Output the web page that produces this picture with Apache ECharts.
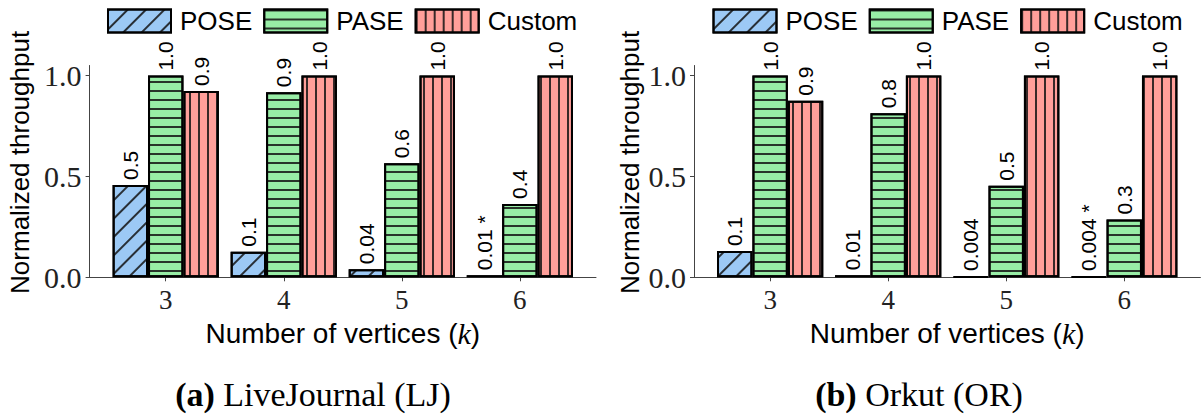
<!DOCTYPE html>
<html>
<head>
<meta charset="utf-8">
<script src="https://cdn.jsdelivr.net/npm/echarts@6/dist/echarts.min.js"></script>
<style>
  html, body { margin: 0; padding: 0; background: #fff; }
  #chart { width: 1204px; height: 416px; }
</style>
</head>
<body>
<div id="chart"></div>
<script>
// Pattern sizes (k) on the x axis
const kValues = [3, 4, 5, 6];
const yTicks = [0, 0.5, 1.0];

// Normalized throughput, LiveJournal (LJ)
const ljPose = [0.458, 0.127, 0.04, 0.01];
const ljPase = [1.0, 0.918, 0.565, 0.364];
const ljCustom = [0.924, 1.0, 1.0, 1.0];

// Normalized throughput, Orkut (OR)
const orPose = [0.13, 0.01, 0.004, 0.004];
const orPase = [1.0, 0.813, 0.454, 0.286];
const orCustom = [0.875, 1.0, 1.0, 1.0];

// Footnote markers appended to the POSE value labels
const poseNotes = ['', '', '', '*'];

const seriesNames = ['POSE', 'PASE', 'Custom'];
const captions = ['LiveJournal (LJ)', 'Orkut (OR)'];
const captionTags = ['(a)', '(b)'];

const SANS = 'Liberation Sans';
const SERIF = 'Liberation Serif';
const HATCH = 'rgba(20,20,20,0.85)';

const styles = {
  POSE: {
    color: '#9cc9f5',
    decal: { symbol: 'rect', symbolSize: 1, dashArrayX: [1, 0], dashArrayY: [1.2, 10.5], rotation: -Math.PI / 4, color: HATCH }
  },
  PASE: {
    color: '#98eda6',
    decal: { symbol: 'rect', symbolSize: 1, dashArrayX: [1, 0], dashArrayY: [1.2, 6.6], rotation: 0, color: HATCH }
  },
  Custom: {
    color: '#ff9f9a',
    decal: { symbol: 'rect', symbolSize: 1, dashArrayX: [1.2, 6.3], dashArrayY: [1, 0], rotation: 0, color: HATCH }
  }
};

function fmtValue(v) {
  return v >= 0.1 ? v.toFixed(1) : v.toPrecision(1);
}

function makeSeries(name, values, panel, notes) {
  const st = styles[name];
  return {
    type: 'bar',
    name: name,
    xAxisIndex: panel,
    yAxisIndex: panel,
    barWidth: '30%',
    barGap: '0%',
    data: values.map((v, i) => [kValues[i], v]),
    itemStyle: {
      color: st.color,
      decal: st.decal,
      borderColor: '#000',
      borderWidth: 2
    },
    label: {
      show: true,
      position: 'top',
      rotate: 90,
      align: 'left',
      verticalAlign: 'middle',
      distance: 5,
      color: '#000',
      fontFamily: SANS,
      fontSize: 21,
      formatter: (p) => {
        const note = notes ? notes[p.dataIndex] : '';
        return fmtValue(p.value[1]) + (note ? ' ' + note : '');
      }
    },
    emphasis: { disabled: true }
  };
}

const gridLefts = [89.6, 694];
const yNameGaps = [57, 51];
const captionCenters = [308, 914];
const legendLefts = [107, 712.5];

const axisColor = '#444';

const option = {
  animation: false,
  backgroundColor: '#fff',
  aria: { enabled: false },
  legend: legendLefts.map((l) => ({
    left: l,
    top: 8,
    padding: 0,
    icon: 'rect',
    itemWidth: 63,
    itemHeight: 23,
    itemGap: 11,
    selectedMode: false,
    data: seriesNames,
    textStyle: { fontFamily: SANS, fontSize: 26, color: '#000', padding: [0, 0, 0, 4] }
  })),
  title: captionCenters.map((c, i) => ({
    text: '{b|' + captionTags[i] + '}{r| ' + captions[i] + '}',
    left: c,
    textAlign: 'center',
    top: 372,
    textStyle: {
      rich: {
        b: { fontFamily: SERIF, fontWeight: 'bold', fontSize: 34, color: '#000' },
        r: { fontFamily: SERIF, fontWeight: 'normal', fontSize: 34, color: '#000' }
      }
    }
  })),
  grid: gridLefts.map((l) => ({ left: l, top: 65.5, width: 506.4, height: 211.8 })),
  xAxis: [0, 1].map((i) => ({
    type: 'value',
    gridIndex: i,
    min: 2.355,
    max: 6.645,
    name: '{n|Number of vertices (}{k|k}{n|)}',
    nameLocation: 'middle',
    nameGap: 39,
    nameTextStyle: {
      rich: {
        n: { fontFamily: SANS, fontSize: 28, color: '#000' },
        k: { fontFamily: SERIF, fontStyle: 'italic', fontSize: 30, color: '#000' }
      }
    },
    axisLine: { show: true, onZero: false, lineStyle: { color: axisColor, width: 1 } },
    axisTick: { show: true, length: 4, customValues: kValues, lineStyle: { color: axisColor } },
    axisLabel: {
      customValues: kValues,
      margin: 9,
      fontFamily: SERIF,
      fontSize: 27,
      color: '#222'
    },
    splitLine: { show: false }
  })),
  yAxis: [0, 1].map((i) => ({
    type: 'value',
    gridIndex: i,
    min: 0,
    max: 1.05,
    name: 'Normalized throughput',
    nameLocation: 'middle',
    nameGap: yNameGaps[i],
    nameTextStyle: { fontFamily: SANS, fontSize: 26, color: '#000', padding: [0, 0, 0, 18] },
    axisLine: { show: true, onZero: false, lineStyle: { color: axisColor, width: 1 } },
    axisTick: { show: true, length: 4, customValues: yTicks, lineStyle: { color: axisColor } },
    axisLabel: {
      customValues: yTicks,
      margin: 8,
      fontFamily: SERIF,
      fontSize: 30,
      color: '#222',
      formatter: (v) => Number(v).toFixed(1)
    },
    splitLine: { show: false }
  })),
  series: [
    makeSeries('POSE', ljPose, 0, poseNotes),
    makeSeries('PASE', ljPase, 0),
    makeSeries('Custom', ljCustom, 0),
    makeSeries('POSE', orPose, 1, poseNotes),
    makeSeries('PASE', orPase, 1),
    makeSeries('Custom', orCustom, 1)
  ]
};

const chart = echarts.init(document.getElementById('chart'), null, { renderer: 'svg' });
chart.setOption(option);
</script>
</body>
</html>
